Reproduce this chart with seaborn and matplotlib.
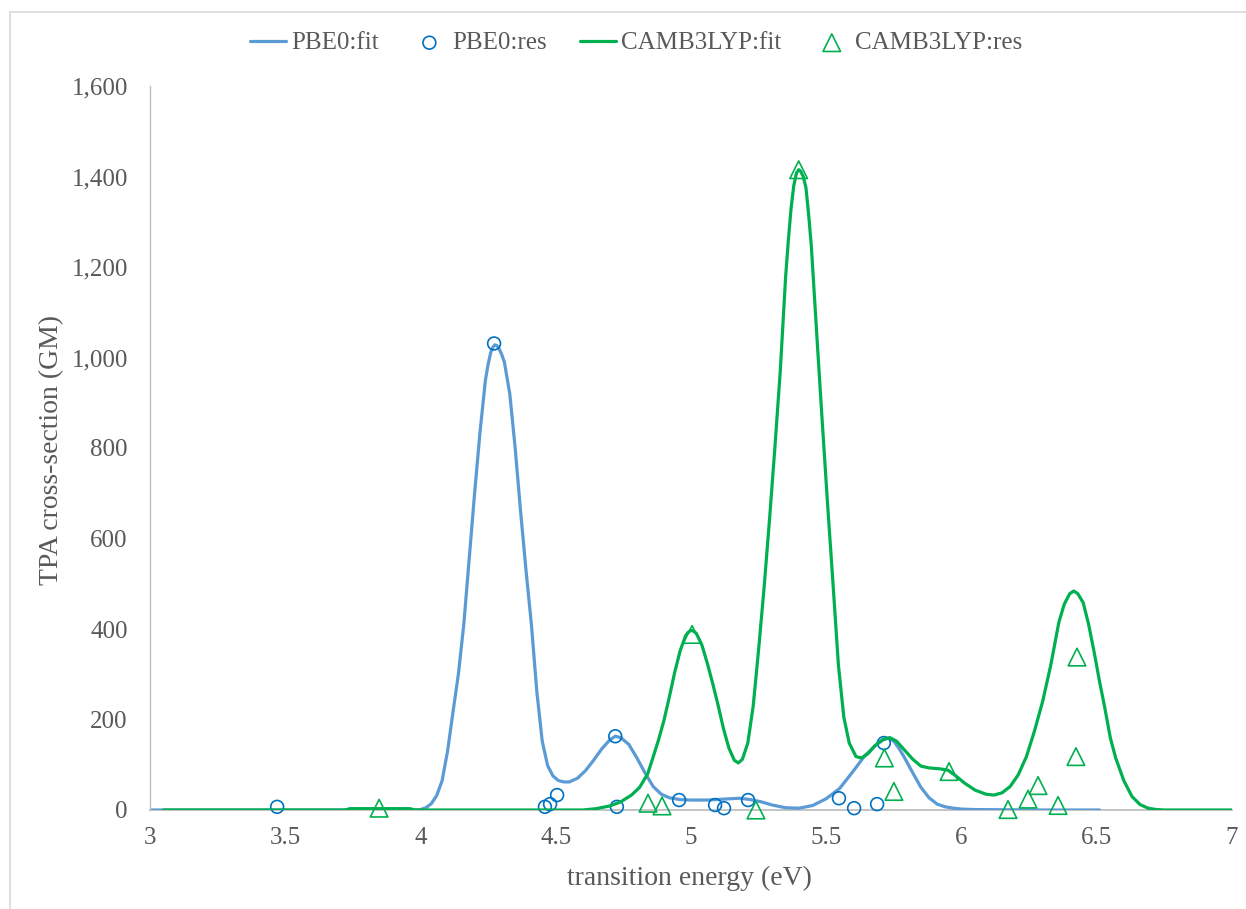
import numpy as np
import pandas as pd
import matplotlib
matplotlib.use("Agg")
import matplotlib.pyplot as plt
import seaborn as sns
from matplotlib.lines import Line2D
from matplotlib.ticker import FuncFormatter

# ========== data ==========
# PBE0 fitted spectrum
pbe0_fit_x = [3.00, 3.50, 3.98, 4.00, 4.02, 4.04, 4.06, 4.08, 4.10, 4.12, 4.14,
              4.16, 4.18, 4.20, 4.22, 4.24, 4.25, 4.26, 4.268, 4.275, 4.283,
              4.29, 4.30, 4.31, 4.33, 4.35, 4.37, 4.39, 4.41, 4.43, 4.45,
              4.47, 4.49, 4.51, 4.53, 4.55, 4.58, 4.61, 4.64, 4.67, 4.70,
              4.72, 4.74, 4.77, 4.80, 4.83, 4.86, 4.89, 4.92, 4.96, 5.00,
              5.06, 5.12, 5.18, 5.22, 5.26, 5.30, 5.35, 5.40, 5.45, 5.50,
              5.55, 5.60, 5.64, 5.68, 5.71, 5.73, 5.75, 5.77, 5.79, 5.82,
              5.85, 5.88, 5.91, 5.94, 5.97, 6.00, 6.05, 6.30, 6.51]
pbe0_fit_y = [0, 0, 0, 1, 5, 14, 32, 65, 130, 216, 300,
              410, 555, 700, 835, 950, 985, 1012, 1023, 1028, 1026,
              1020, 1007, 990, 920, 800, 660, 530, 410, 262, 152,
              98, 75, 65, 62, 62, 70, 87, 110, 135, 155,
              163, 160, 145, 115, 82, 52, 35, 27, 23, 22,
              22, 24, 26, 23, 18, 11, 5, 4, 10, 25,
              48, 86, 118, 142, 155, 159, 152, 135, 115, 82,
              50, 27, 13, 7, 4, 2, 1, 0, 0]

# PBE0 computed states
pbe0_res_x = [3.47, 4.272, 4.46, 4.479, 4.505, 4.72, 4.726, 4.956, 5.089, 5.122,
              5.211, 5.547, 5.603, 5.688, 5.713]
pbe0_res_y = [7, 1031, 7, 13, 33, 163, 7, 22, 11, 4,
              22, 26, 4, 13, 148]

# CAM-B3LYP fitted spectrum
camb_fit_x = [3.05, 3.72, 3.74, 3.96, 3.98, 4.60, 4.65, 4.70, 4.74, 4.78, 4.81,
              4.84, 4.86, 4.88, 4.90, 4.92, 4.94, 4.96, 4.98, 4.99, 5.00,
              5.01, 5.02, 5.04, 5.06, 5.08, 5.10, 5.12, 5.14, 5.16, 5.175,
              5.19, 5.21, 5.23, 5.25, 5.27, 5.29, 5.31, 5.33, 5.35, 5.36,
              5.37, 5.38, 5.39, 5.398, 5.405, 5.415, 5.425, 5.435, 5.445, 5.465,
              5.485, 5.505, 5.525, 5.545, 5.565, 5.585, 5.61, 5.63, 5.655, 5.68,
              5.71, 5.735, 5.76, 5.79, 5.82, 5.85, 5.88, 5.92, 5.95, 5.98,
              6.01, 6.05, 6.09, 6.12, 6.15, 6.18, 6.21, 6.24, 6.27, 6.30,
              6.33, 6.36, 6.38, 6.40, 6.415, 6.43, 6.45, 6.47, 6.49, 6.51,
              6.53, 6.55, 6.57, 6.60, 6.63, 6.66, 6.69, 6.72, 6.75, 7.00]
camb_fit_y = [0, 0, 3, 3, 0, 0, 3, 9, 18, 33, 50,
              80, 117, 155, 198, 250, 305, 352, 385, 393, 397,
              395, 390, 365, 325, 280, 232, 180, 137, 110, 104,
              112, 148, 230, 355, 490, 640, 800, 970, 1180, 1260,
              1330, 1380, 1408, 1415, 1412, 1400, 1375, 1315, 1245, 1050,
              860, 675, 500, 320, 205, 148, 118, 115, 125, 142,
              156, 160, 152, 132, 112, 97, 93, 91, 88, 75,
              60, 44, 35, 33, 38, 52, 78, 118, 175, 240,
              320, 415, 455, 478, 484, 478, 458, 410, 350, 285,
              225, 160, 115, 65, 30, 12, 4, 1, 0, 0]

# CAM-B3LYP computed states
camb_res_x = [3.847, 4.841, 4.893, 5.004, 5.24, 5.398, 5.715, 5.75, 5.954, 6.172,
              6.246, 6.283, 6.357, 6.423, 6.427]
camb_res_y = [4, 15, 9, 388, 0, 1415, 115, 41, 85, 1,
              24, 54, 10, 118, 338]

x_ticks = [3, 3.5, 4, 4.5, 5, 5.5, 6, 6.5, 7]
y_ticks = [0, 200, 400, 600, 800, 1000, 1200, 1400, 1600]

# ========== style ==========
sns.set_theme(style="white")
plt.rcParams["font.family"] = ["Liberation Serif", "DejaVu Serif"]

TXT = "#595959"
AXC = "#BFBFBF"
BLUE_LINE = "#5B9BD5"
BLUE_MK = "#0070C0"
GREEN = "#00B050"

fig = plt.figure(figsize=(12.46, 9.09), dpi=100)
ax = fig.add_axes([150 / 1246, 1 - 810 / 909, 1082 / 1246, 724 / 909])

df_pf = pd.DataFrame({"E": pbe0_fit_x, "TPA": pbe0_fit_y})
df_pr = pd.DataFrame({"E": pbe0_res_x, "TPA": pbe0_res_y})
df_cf = pd.DataFrame({"E": camb_fit_x, "TPA": camb_fit_y})
df_cr = pd.DataFrame({"E": camb_res_x, "TPA": camb_res_y})

sns.lineplot(data=df_pf, x="E", y="TPA", ax=ax, color=BLUE_LINE, linewidth=2.3,
             estimator=None, sort=False, label="PBE0:fit", zorder=2)
sns.scatterplot(data=df_pr, x="E", y="TPA", ax=ax, marker="o", s=85,
                facecolor="none", edgecolor=BLUE_MK, linewidth=1.2,
                label="PBE0:res", zorder=3)
sns.lineplot(data=df_cf, x="E", y="TPA", ax=ax, color=GREEN, linewidth=2.3,
             estimator=None, sort=False, label="CAMB3LYP:fit", zorder=4)
sns.scatterplot(data=df_cr, x="E", y="TPA", ax=ax, marker="^", s=160,
                facecolor="none", edgecolor=GREEN, linewidth=1.2,
                label="CAMB3LYP:res", zorder=5)

# markers sitting on the baseline are drawn whole, as in the original
for coll in ax.collections:
    coll.set_clip_on(False)

ax.set_xlim(3, 7)
ax.set_ylim(0, 1600)
ax.set_xticks(x_ticks)
ax.set_yticks(y_ticks)
ax.xaxis.set_major_formatter(FuncFormatter(lambda v, p: f"{v:g}"))
ax.yaxis.set_major_formatter(FuncFormatter(lambda v, p: f"{v:,.0f}"))
ax.tick_params(axis="both", length=0, labelsize=18, labelcolor=TXT)
ax.tick_params(axis="x", pad=12)
ax.tick_params(axis="y", pad=16)

for side in ["top", "right"]:
    ax.spines[side].set_visible(False)
ax.spines["left"].set_color(AXC)
ax.spines["bottom"].set_color(AXC)
ax.spines["left"].set_linewidth(1.0)
ax.spines["bottom"].set_linewidth(1.3)
ax.spines["bottom"].set_zorder(1)

ax.set_xlabel("transition energy (eV)", fontsize=20, color=TXT)
ax.set_ylabel("TPA cross-section (GM)", fontsize=20, color=TXT)
ax.xaxis.set_label_coords(0.499, -0.094)
ax.xaxis.label.set_va("center")
ax.yaxis.set_label_coords(-0.0906, 0.497)
ax.yaxis.label.set_va("center")

handles, labels = ax.get_legend_handles_labels()
ax.get_legend().remove()
fig.legend(handles, labels, loc="center", bbox_to_anchor=(636 / 1246, 1 - 43 / 909),
           ncol=4, frameon=False, fontsize=18, labelcolor=TXT,
           handlelength=1.45, handletextpad=0.2, columnspacing=1.3)

# chart area border (Excel style)
fig.add_artist(Line2D([10 / 1246, 10 / 1246], [0, 1 - 12 / 909], color="#D9D9D9", lw=1.2))
fig.add_artist(Line2D([10 / 1246, 1], [1 - 12 / 909, 1 - 12 / 909], color="#D9D9D9", lw=1.2))

fig.savefig("out.png", dpi=100)
